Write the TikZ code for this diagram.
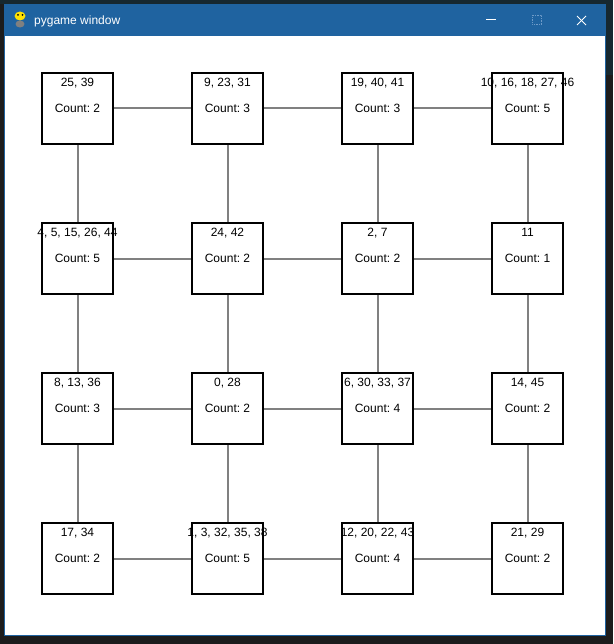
\documentclass[tikz,border=0pt]{standalone}
\usepackage{fontspec}
\setmainfont{Liberation Sans}
\usepackage{xcolor}
\definecolor{titleblue}{RGB}{31, 99, 160}
\definecolor{deskdark}{RGB}{28, 28, 28}
\definecolor{deskteal}{RGB}{22, 40, 48}
\definecolor{linkgray}{RGB}{128, 128, 128}
\definecolor{dimblue}{RGB}{110, 155, 200}
\frenchspacing

\tikzset{
	cell/.style={draw=black, fill=white, line width=2pt, minimum size=71pt, inner sep=0pt},
	link/.style={draw=linkgray, line width=2pt},
	ids/.style={font=\fontsize{12}{14}\selectfont, text height=8.6pt, text depth=0pt, inner sep=0pt},
	count/.style={font=\fontsize{12}{14}\selectfont, text height=8.6pt, text depth=0pt, inner sep=0pt}
}

\begin{document}
\begin{tikzpicture}[x=1pt, y=-1pt]
		\useasboundingbox (0,0) rectangle (613,644);
		% desktop behind the window
		\fill[deskdark] (0,0) rectangle (613,644);
		\fill[deskteal] (0,0) rectangle (613,4);
		\fill[deskteal] (606,4) rectangle (613,75);
		
		% window
		\draw[titleblue, fill=white, line width=1pt] (4.5,4.5) rectangle (605.5,635.5);
		\fill[titleblue] (4,4) rectangle (606,36);
		
		% title bar
		\fill[yellow!85!orange] (20,16) ellipse (5.5 and 4.5);
		\fill[gray] (20,24) ellipse (4.5 and 3.5);
		\fill[black] (18,15) circle (1pt);
		\fill[black] (22.5,15) circle (1pt);
		\node[anchor=west, inner sep=0pt, text=white, font=\fontsize{12}{14}\selectfont] (title) at (34,21) {pygame window};
		\draw[white, line width=1pt] (486,20) -- (496,20);
		\draw[dimblue, line width=0.8pt, densely dotted] (532,15) rectangle (541,24);
		\draw[white, line width=1pt] (577,16) -- (586,25);
		\draw[white, line width=1pt] (577,25) -- (586,16);
		
		% cells
		\node[cell] (c11) at (77.5,108.5) {};
		\node[cell] (c12) at (227.5,108.5) {};
		\node[cell] (c13) at (377.5,108.5) {};
		\node[cell] (c14) at (527.5,108.5) {};
		\node[cell] (c21) at (77.5,258.5) {};
		\node[cell] (c22) at (227.5,258.5) {};
		\node[cell] (c23) at (377.5,258.5) {};
		\node[cell] (c24) at (527.5,258.5) {};
		\node[cell] (c31) at (77.5,408.5) {};
		\node[cell] (c32) at (227.5,408.5) {};
		\node[cell] (c33) at (377.5,408.5) {};
		\node[cell] (c34) at (527.5,408.5) {};
		\node[cell] (c41) at (77.5,558.5) {};
		\node[cell] (c42) at (227.5,558.5) {};
		\node[cell] (c43) at (377.5,558.5) {};
		\node[cell] (c44) at (527.5,558.5) {};
		
		% links, rows
		\draw[link] (c11) -- (c12);
		\draw[link] (c12) -- (c13);
		\draw[link] (c13) -- (c14);
		\draw[link] (c21) -- (c22);
		\draw[link] (c22) -- (c23);
		\draw[link] (c23) -- (c24);
		\draw[link] (c31) -- (c32);
		\draw[link] (c32) -- (c33);
		\draw[link] (c33) -- (c34);
		\draw[link] (c41) -- (c42);
		\draw[link] (c42) -- (c43);
		\draw[link] (c43) -- (c44);
		
		% links, columns
		\draw[link] (c11) -- (c21);
		\draw[link] (c21) -- (c31);
		\draw[link] (c31) -- (c41);
		\draw[link] (c12) -- (c22);
		\draw[link] (c22) -- (c32);
		\draw[link] (c32) -- (c42);
		\draw[link] (c13) -- (c23);
		\draw[link] (c23) -- (c33);
		\draw[link] (c33) -- (c43);
		\draw[link] (c14) -- (c24);
		\draw[link] (c24) -- (c34);
		\draw[link] (c34) -- (c44);
		
		% contents
		\node[ids] (i11) at ([yshift=26pt]c11.center) {25, 39};
		\node[count] (n11) at (c11.center) {Count: 2};
		\node[ids] (i12) at ([yshift=26pt]c12.center) {9, 23, 31};
		\node[count] (n12) at (c12.center) {Count: 3};
		\node[ids] (i13) at ([yshift=26pt]c13.center) {19, 40, 41};
		\node[count] (n13) at (c13.center) {Count: 3};
		\node[ids] (i14) at ([yshift=26pt]c14.center) {10, 16, 18, 27, 46};
		\node[count] (n14) at (c14.center) {Count: 5};
		
		\node[ids] (i21) at ([yshift=26pt]c21.center) {4, 5, 15, 26, 44};
		\node[count] (n21) at (c21.center) {Count: 5};
		\node[ids] (i22) at ([yshift=26pt]c22.center) {24, 42};
		\node[count] (n22) at (c22.center) {Count: 2};
		\node[ids] (i23) at ([yshift=26pt]c23.center) {2, 7};
		\node[count] (n23) at (c23.center) {Count: 2};
		\node[ids] (i24) at ([yshift=26pt]c24.center) {11};
		\node[count] (n24) at (c24.center) {Count: 1};
		
		\node[ids] (i31) at ([yshift=26pt]c31.center) {8, 13, 36};
		\node[count] (n31) at (c31.center) {Count: 3};
		\node[ids] (i32) at ([yshift=26pt]c32.center) {0, 28};
		\node[count] (n32) at (c32.center) {Count: 2};
		\node[ids] (i33) at ([yshift=26pt]c33.center) {6, 30, 33, 37};
		\node[count] (n33) at (c33.center) {Count: 4};
		\node[ids] (i34) at ([yshift=26pt]c34.center) {14, 45};
		\node[count] (n34) at (c34.center) {Count: 2};
		
		\node[ids] (i41) at ([yshift=26pt]c41.center) {17, 34};
		\node[count] (n41) at (c41.center) {Count: 2};
		\node[ids] (i42) at ([yshift=26pt]c42.center) {1, 3, 32, 35, 38};
		\node[count] (n42) at (c42.center) {Count: 5};
		\node[ids] (i43) at ([yshift=26pt]c43.center) {12, 20, 22, 43};
		\node[count] (n43) at (c43.center) {Count: 4};
		\node[ids] (i44) at ([yshift=26pt]c44.center) {21, 29};
		\node[count] (n44) at (c44.center) {Count: 2};
		
	\end{tikzpicture}
\end{document}
